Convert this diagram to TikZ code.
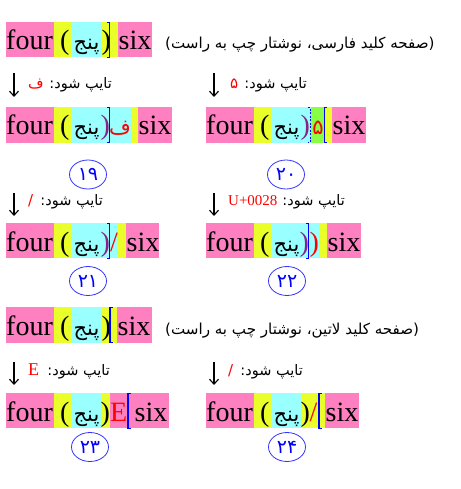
\documentclass[tikz,border=0pt]{standalone}
\usepackage{fontspec}
\setmainfont{Liberation Serif}
\newfontfamily\arabicfont[Script=Arabic]{DejaVu Sans}
\TeXXeTstate=1
\usetikzlibrary{arrows.meta,shapes.geometric}
\definecolor{pk}{HTML}{FF80C0}
\definecolor{yl}{HTML}{EAFF2A}
\definecolor{cy}{HTML}{99FFFF}
\definecolor{gr}{HTML}{88FF44}
\definecolor{bl}{HTML}{0000FF}
\definecolor{cb}{HTML}{3333FF}
\definecolor{rd}{HTML}{FF0000}
\definecolor{pu}{HTML}{882288}
\tikzset{
  lat/.style={inner sep=0pt, anchor=base west, font=\fontsize{28}{30}\selectfont},
  ar/.style={inner sep=0pt, anchor=base, font=\arabicfont\fontsize{21}{23}\selectfont},
  lbl/.style={inner sep=0pt, anchor=base east, font=\arabicfont\fontsize{14.5}{16}\selectfont},
  key/.style={inner sep=0pt, anchor=base west, text=rd, font=\arabicfont\fontsize{15}{16}\selectfont},
  ttl/.style={inner sep=0pt, anchor=base west, font=\arabicfont\fontsize{15.1}{17}\selectfont},
  num/.style={draw=cb, line width=0.8pt, ellipse, minimum width=37pt, minimum height=29pt, inner sep=0pt, text=bl, font=\arabicfont\fontsize{19}{20}\selectfont},
  arr/.style={line width=1.1pt, -{Straight Barb[length=5pt,width=9pt,line width=1.1pt]}},
  curR/.pic={\draw[bl, line width=1.3pt] (-2.5,0.7) -- (0,0.7) -- (0,35.3) -- (-2.5,35.3);},
  curL/.pic={\draw[bl, line width=1.3pt] (2.5,0.7) -- (0,0.7) -- (0,35.3) -- (2.5,35.3);},
  curD/.pic={\draw[bl, line width=1pt, dash pattern=on 2pt off 1.5pt] (-2.5,0.7) -- (0,0.7) -- (0,35.3) -- (-2.5,35.3);}
}
\begin{document}
\begin{tikzpicture}[x=1pt,y=-1pt]
\useasboundingbox (0,0) rectangle (460,489);

% ---------- Row 1 (Persian keyboard title) ----------
\fill[pk] (6,22) rectangle (54,57);
\fill[yl] (54,22) rectangle (71,57);
\fill[cy] (71,22) rectangle (102,57);
\fill[yl] (102,22) rectangle (118,57);
\fill[pk] (118,22) rectangle (152,57);
\node[lat] (a-four) at (6,50) {four};
\node[lat] (a-lp) at (60,50) {(};
\node[ar] (a-fa) at (86.5,50) {پنج};
\node[lat] (a-rp) at (101.5,50) {)};
\node[lat] (a-six) at (118.5,50) {six};
\pic at (109.5,22) {curR};
\node[ttl] (a-title) at (165,49) {\beginR (صفحه کلید فارسی، نوشتار چپ به راست)\endR};

% ---------- Row 19 ----------
\coordinate (b-as) at (14,73); \coordinate (b-ae) at (14,97);
\draw[arr] (b-as) -- (b-ae);
\node[key] (b-key) at (28,89) {ف};
\node[lbl] (b-lbl) at (112,89) {\beginR تایپ شود:\endR};
\fill[pk] (6,107) rectangle (54,143);
\fill[yl] (54,107) rectangle (71,143);
\fill[cy] (71,107) rectangle (131,143);
\fill[yl] (131,107) rectangle (138,143);
\fill[pk] (138,107) rectangle (172,143);
\node[lat] (b-four) at (6,135) {four};
\node[lat] (b-lp) at (60,135) {(};
\node[ar] (b-fa) at (86.5,135) {پنج};
\node[lat,text=pu] (b-rp) at (100.5,135) {)};
\node[ar,text=rd] (b-f) at (120,135) {ف};
\node[lat] (b-six) at (138.5,135) {six};
\pic at (109.5,107) {curR};
\node[num] (b-num) at (88,174.5) {۱۹};

% ---------- Row 20 ----------
\coordinate (c-as) at (214,73); \coordinate (c-ae) at (214,97);
\draw[arr] (c-as) -- (c-ae);
\node[key] (c-key) at (230,89) {۵};
\node[lbl] (c-lbl) at (307,89) {\beginR تایپ شود:\endR};
\fill[pk] (206,107) rectangle (254,143);
\fill[yl] (254,107) rectangle (271,143);
\fill[cy] (271,107) rectangle (311,143);
\fill[gr] (311,107) rectangle (324,143);
\fill[yl] (324,107) rectangle (332,143);
\fill[pk] (332,107) rectangle (366,143);
\node[lat] (c-four) at (206,135) {four};
\node[lat] (c-lp) at (260,135) {(};
\node[ar] (c-fa) at (286.5,135) {پنج};
\node[lat,text=pu] (c-rp) at (300.5,135) {)};
\node[ar,text=rd] (c-5) at (318,135) {۵};
\node[lat] (c-six) at (332.5,135) {six};
\pic at (310.5,107) {curD};
\pic at (324.5,107) {curL};
\node[num] (c-num) at (286,174.5) {۲۰};

% ---------- Row 21 ----------
\coordinate (d-as) at (14,193); \coordinate (d-ae) at (14,216);
\draw[arr] (d-as) -- (d-ae);
\node[key] (d-key) at (28,205) {/};
\node[lbl] (d-lbl) at (103,205) {\beginR تایپ شود:\endR};
\fill[pk] (6,223) rectangle (54,258);
\fill[yl] (54,223) rectangle (71,258);
\fill[cy] (71,223) rectangle (118,258);
\fill[yl] (118,223) rectangle (126,258);
\fill[pk] (126,223) rectangle (159,258);
\node[lat] (d-four) at (6,251) {four};
\node[lat] (d-lp) at (60,251) {(};
\node[ar] (d-fa) at (86.5,251) {پنج};
\node[lat,text=pu] (d-rp) at (100.5,251) {)};
\node[lat,text=rd] (d-sl) at (110,251) {/};
\node[lat] (d-six) at (126.5,251) {six};
\pic at (109.5,223) {curR};
\node[num] (d-num) at (88,281) {۲۱};

% ---------- Row 22 ----------
\coordinate (e-as) at (214,193); \coordinate (e-ae) at (214,216);
\draw[arr] (e-as) -- (e-ae);
\node[inner sep=0pt, anchor=base west, text=rd, font=\fontsize{15}{16}\selectfont] (e-key) at (228,205) {U+0028};
\node[lbl] (e-lbl) at (345,205) {\beginR تایپ شود:\endR};
\fill[pk] (206,223) rectangle (254,258);
\fill[yl] (254,223) rectangle (271,258);
\fill[cy] (271,223) rectangle (319,258);
\fill[yl] (319,223) rectangle (327,258);
\fill[pk] (327,223) rectangle (361,258);
\node[lat] (e-four) at (206,251) {four};
\node[lat] (e-lp) at (260,251) {(};
\node[ar] (e-fa) at (286.5,251) {پنج};
\node[lat,text=pu] (e-rp) at (299.5,251) {)};
\node[lat,text=rd] (e-rp2) at (309.5,251) {)};
\node[lat] (e-six) at (327.5,251) {six};
\pic at (308.5,223) {curR};
\node[num] (e-num) at (287,281) {۲۲};

% ---------- Row 4 (Latin keyboard title) ----------
\fill[pk] (6,307) rectangle (54,343);
\fill[yl] (54,307) rectangle (71,343);
\fill[cy] (71,307) rectangle (102,343);
\fill[yl] (102,307) rectangle (117,343);
\fill[pk] (117,307) rectangle (152,343);
\node[lat] (f-four) at (6,335) {four};
\node[lat] (f-lp) at (60,335) {(};
\node[ar] (f-fa) at (86.5,335) {پنج};
\node[lat] (f-rp) at (101.5,335) {)};
\node[lat] (f-six) at (117.5,335) {six};
\pic at (110,307) {curL};
\node[ttl] (f-title) at (165,334) {\beginR (صفحه کلید لاتین، نوشتار چپ به راست)\endR};

% ---------- Row 23 ----------
\coordinate (g-as) at (14,362); \coordinate (g-ae) at (14,385);
\draw[arr] (g-as) -- (g-ae);
\node[inner sep=0pt, anchor=base west, text=rd, font=\fontsize{18}{18}\selectfont] (g-key) at (28,375) {E};
\node[lbl] (g-lbl) at (110,375) {\beginR تایپ شود:\endR};
\fill[pk] (6,393) rectangle (54,428);
\fill[yl] (54,393) rectangle (71,428);
\fill[cy] (71,393) rectangle (101,428);
\fill[yl] (101,393) rectangle (110,428);
\fill[pk] (110,393) rectangle (169,428);
\node[lat] (g-four) at (6,421) {four};
\node[lat] (g-lp) at (60,421) {(};
\node[ar] (g-fa) at (86.5,421) {پنج};
\node[lat] (g-rp) at (100.5,421) {)};
\node[lat,text=rd] (g-E) at (110,421) {E};
\node[lat] (g-six) at (134.5,421) {six};
\pic at (128,393) {curL};
\node[num] (g-num) at (90,447) {۲۳};

% ---------- Row 24 ----------
\coordinate (h-as) at (214,362); \coordinate (h-ae) at (214,385);
\draw[arr] (h-as) -- (h-ae);
\node[key] (h-key) at (228,375) {/};
\node[lbl] (h-lbl) at (303,375) {\beginR تایپ شود:\endR};
\fill[pk] (206,393) rectangle (254,428);
\fill[yl] (254,393) rectangle (271,428);
\fill[cy] (271,393) rectangle (301,428);
\fill[yl] (301,393) rectangle (325,428);
\fill[pk] (325,393) rectangle (359,428);
\node[lat] (h-four) at (206,421) {four};
\node[lat] (h-lp) at (260,421) {(};
\node[ar] (h-fa) at (286.5,421) {پنج};
\node[lat] (h-rp) at (300.5,421) {)};
\node[lat,text=rd] (h-sl) at (309.5,421) {/};
\node[lat] (h-six) at (325.5,421) {six};
\pic at (319,393) {curL};
\node[num] (h-num) at (287,447) {۲۴};
\end{tikzpicture}
\end{document}
